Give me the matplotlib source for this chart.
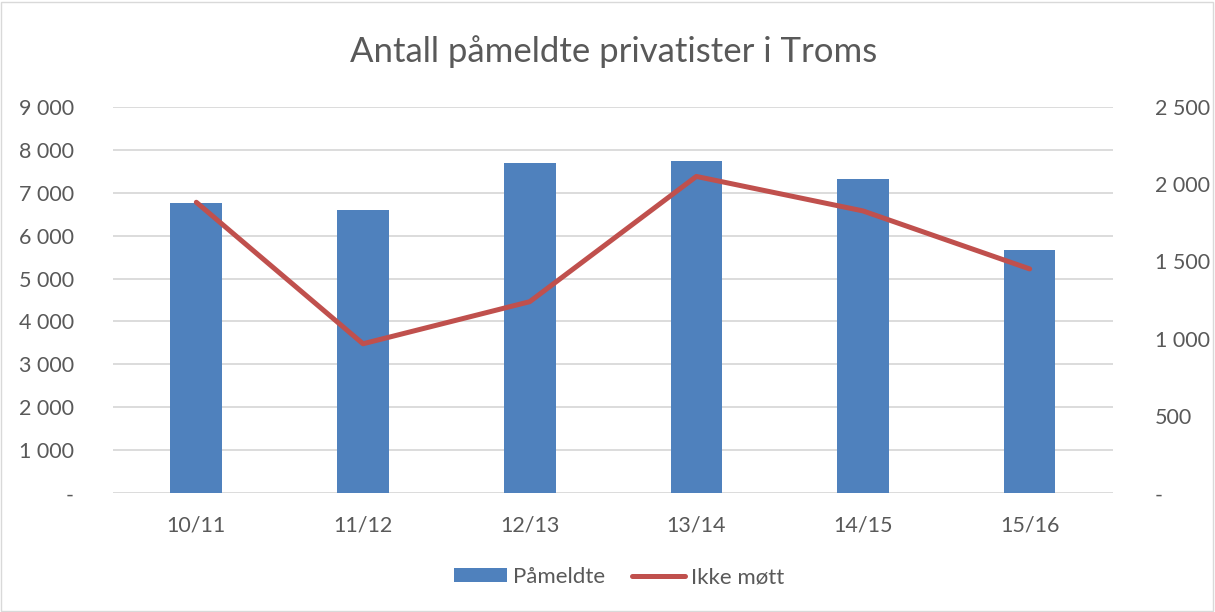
import matplotlib
matplotlib.use('Agg')
import matplotlib.pyplot as plt
from matplotlib.ticker import FuncFormatter
from matplotlib.patches import Rectangle
import numpy as np

# data
seasons = ["10/11", "11/12", "12/13", "13/14", "14/15", "15/16"]
pameldte = [6750, 6595, 7696, 7735, 7324, 5656]
ikke_mott = [1882, 967, 1239, 2049, 1826, 1451]

TEXT = '#595959'
GRID = '#D9D9D9'
BLUE = '#4F81BD'
RED = '#C0504D'

plt.rcParams['font.family'] = ['Lato', 'DejaVu Sans']


def fmt(v, p):
    if v == 0:
        return '-'
    return f'{int(v):,}'.replace(',', ' ')


fig = plt.figure(figsize=(12.15, 6.12), dpi=100)
fig.patch.set_facecolor('white')
fig.add_artist(Rectangle((0.001, 0.002), 0.997, 0.995, transform=fig.transFigure,
                         fill=False, edgecolor=GRID, linewidth=1))

ax = fig.add_axes([113 / 1215, 1 - 493.3 / 612, 1000 / 1215, 386.6 / 612])
x = np.arange(len(seasons))
ax.bar(x, pameldte, width=0.31, color=BLUE, zorder=3, label='Påmeldte')
ax.set_xlim(-0.5, len(seasons) - 0.5)
ax.set_ylim(0, 9000)
ax.set_yticks(np.arange(0, 9001, 1000))
ax.yaxis.set_major_formatter(FuncFormatter(fmt))
ax.grid(axis='y', color=GRID, linewidth=1.3, zorder=0)
for s in ax.spines.values():
    s.set_visible(False)
ax.tick_params(axis='y', length=0, pad=28, labelsize=15.5, labelcolor=TEXT)
ax.tick_params(axis='x', length=0, pad=16, labelsize=15.5, labelcolor=TEXT)
ax.set_xticks(x)
ax.set_xticklabels(seasons)

ax2 = ax.twinx()
ax2.plot(x, ikke_mott, color=RED, linewidth=3.6, solid_capstyle='round',
         solid_joinstyle='round', zorder=4, label='Ikke møtt')
ax2.set_ylim(0, 2500)
ax2.set_yticks(np.arange(0, 2501, 500))
ax2.yaxis.set_major_formatter(FuncFormatter(fmt))
for s in ax2.spines.values():
    s.set_visible(False)
ax2.tick_params(axis='y', length=0, pad=30, labelsize=15.5, labelcolor=TEXT)

fig.text(0.505, 1 - 52 / 612, 'Antall påmeldte privatister i Troms',
         ha='center', va='center', fontsize=25, color=TEXT)

h1, l1 = ax.get_legend_handles_labels()
h2, l2 = ax2.get_legend_handles_labels()
fig.legend(h1 + h2, l1 + l2, loc='center', bbox_to_anchor=(619 / 1215, 1 - 577 / 612),
           ncol=2, frameon=False, fontsize=16, labelcolor=TEXT,
           handlelength=2.4, handleheight=0.6, handletextpad=0.25, columnspacing=1.2)

plt.savefig('out.png', dpi=100, facecolor='white')
